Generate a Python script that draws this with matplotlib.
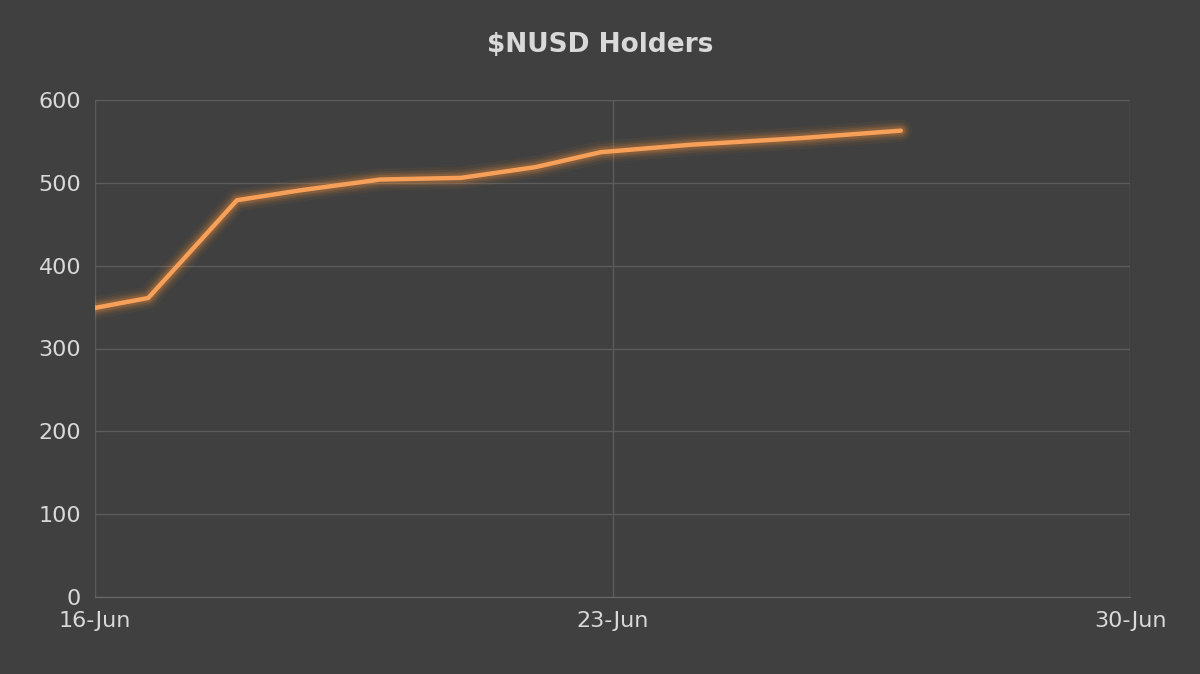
import matplotlib
matplotlib.use("Agg")
import matplotlib.pyplot as plt
import matplotlib.dates as mdates
import pandas as pd

# readings (time offset in days from 16-Jun, holders)
day_offsets = [0.0, 0.72, 1.92, 2.78, 3.86, 4.95, 5.96, 6.84, 8.06, 9.55, 10.9]
holders = [349, 361, 479, 491, 504, 506, 519, 537, 546, 554, 563]
tick_dates = ["2022-06-16", "2022-06-23", "2022-06-30"]

start = pd.Timestamp("2022-06-16")
times = [start + pd.Timedelta(days=d) for d in day_offsets]

bg = "#404040"
fig = plt.figure(figsize=(12, 6.74), dpi=100, facecolor=bg)
ax = fig.add_axes([95 / 1200, 1 - 597 / 674, 1035 / 1200, 497 / 674])
ax.set_facecolor(bg)

# glow
for lw, a in [(16, 0.06), (12, 0.08), (9, 0.12), (6.5, 0.18)]:
    ax.plot(times, holders, color="#f7923a", lw=lw, alpha=a,
            solid_capstyle="round", solid_joinstyle="round")
ax.plot(times, holders, color="#f7a05a", lw=3.2,
        solid_capstyle="round", solid_joinstyle="round")

ax.set_ylim(0, 600)
ax.set_yticks(range(0, 601, 100))
ticks = pd.to_datetime(tick_dates)
ax.set_xlim(ticks[0], ticks[-1])
ax.set_xticks(ticks)
ax.xaxis.set_major_formatter(mdates.DateFormatter("%d-%b"))
ax.grid(True, color="#5c5c5c", lw=1)
ax.set_axisbelow(True)
for s in ["top", "right", "left"]:
    ax.spines[s].set_visible(False)
ax.spines["bottom"].set_color("#6a6a6a")
ax.tick_params(colors="#d9d9d9", labelsize=16, length=0, pad=10)

fig.text(0.5, 1 - 45 / 674, "$NUSD Holders", ha="center", va="center",
         color="#d9d9d9", fontsize=19, fontweight="bold")

fig.savefig("out.png", facecolor=bg)
